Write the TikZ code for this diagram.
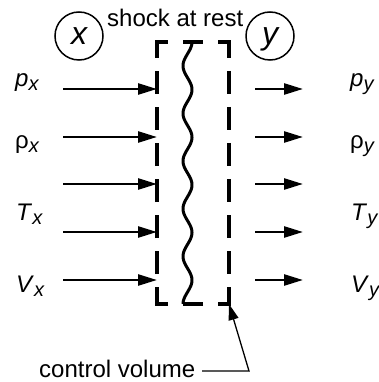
\documentclass[tikz,border=0pt]{standalone}
\usepackage{fontspec}
\setmainfont{Liberation Sans}
\usetikzlibrary{arrows.meta}
\newcommand{\lsub}[1]{\raisebox{-4pt}{\fontsize{20}{24}\selectfont\textit{#1}}}
\begin{document}
\begin{tikzpicture}[x=1pt,y=-1pt,
  flow/.style={line width=2.5pt,-{Triangle[length=19pt,width=11pt]}},
  cvbox/.style={line width=3.5pt,line join=miter,
    dash pattern=on 10pt off 15pt on 27pt off 13pt
      on 23pt off 13pt on 23pt off 13pt on 23pt off 13pt
      on 23pt off 13pt on 23pt off 13pt on 23pt off 13pt
      on 28pt off 15pt on 20pt off 15pt on 28pt off 13pt
      on 23pt off 13pt on 23pt off 13pt on 23pt off 13pt
      on 23pt off 13pt on 23pt off 13pt on 23pt off 13pt
      on 27pt off 15pt on 10pt off 0pt},
  wave/.style={line width=3pt,line join=round},
  lab/.style={anchor=base west,inner sep=0pt,font=\fontsize{24}{28}\selectfont},
  circ/.style={draw,circle,line width=1.5pt,minimum size=48pt,inner sep=0pt,
    text depth=0pt,font=\fontsize{32}{36}\selectfont\itshape},
  lead/.style={line width=1.3pt,{Triangle[length=16pt,width=10pt]}-}
]
\useasboundingbox (0,0) rectangle (379,382);

% control volume box
\coordinate (tm) at (193,42);
\coordinate (tr) at (229,42);
\coordinate (br) at (229,304);
\coordinate (bl) at (157,304);
\coordinate (tl) at (157,42);
\draw[cvbox] (tm) -- (tr) -- (br) -- (bl) -- (tl) -- cycle;

% shock (wavy line)
\draw[wave] plot[domain=42:304,samples=240,variable=\t]
  ({187.5+4.5*cos((\t-42)*7.5573)},\t);

% flow arrows
\foreach \yy in {89,137,184,232,280}{
  \coordinate (ia\yy) at (63,\yy);
  \coordinate (ib\yy) at (157,\yy);
  \coordinate (oa\yy) at (255,\yy);
  \coordinate (ob\yy) at (303,\yy);
  \draw[flow] (ia\yy) -- (ib\yy);
  \draw[flow] (oa\yy) -- (ob\yy);
}

% left labels
\node[lab] (px) at (15,87) {\textit{p}\lsub{x}};
\node[lab] (rx) at (15,148) {ρ\lsub{x}};
\node[lab] (tx) at (16,220) {\textit{T}\lsub{x}};
\node[lab] (vx) at (16,292) {\textit{V}\lsub{x}};
% right labels
\node[lab] (py) at (350,87) {\textit{p}\lsub{y}};
\node[lab] (ry) at (350,148) {ρ\lsub{y}};
\node[lab] (ty) at (351,220) {\textit{T}\lsub{y}};
\node[lab] (vy) at (351,292) {\textit{V}\lsub{y}};

% circled region labels
\node[circ] (cx) at (79,36) {x};
\node[circ] (cy) at (270,36) {y};

% titles
\node[lab] (shock) at (107,27) {shock at rest};
\node[lab] (cvl) at (39,377) {control volume};

% leader
\coordinate (knee) at (249,371);
\coordinate (lend) at (202,371);
\draw[lead] (br) -- (knee) -- (lend);
\end{tikzpicture}
\end{document}
